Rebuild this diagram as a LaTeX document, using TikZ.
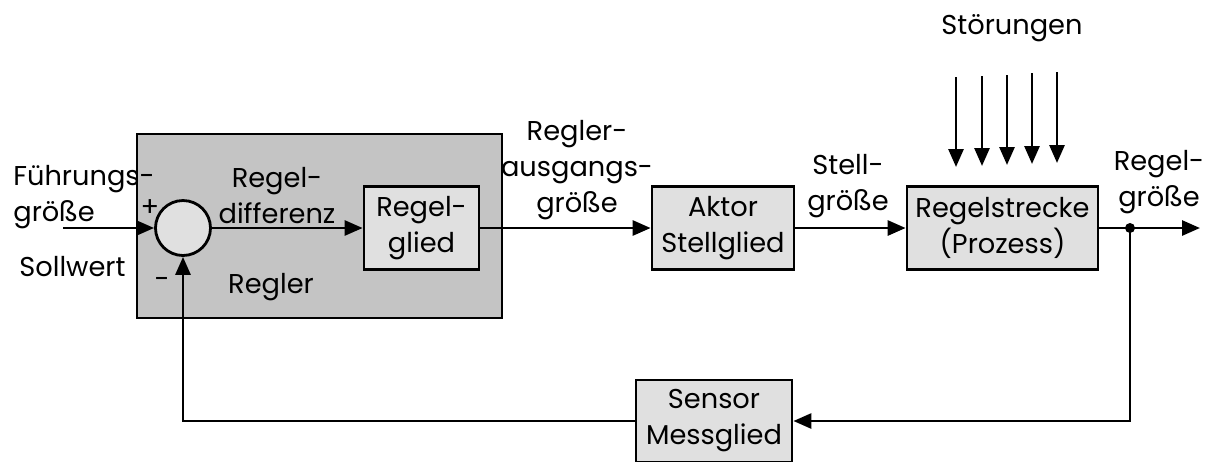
\documentclass[tikz,border=0pt]{standalone}
\usepackage{fontspec}
\setmainfont{Poppins}
\usetikzlibrary{arrows.meta}

\begin{document}
\begin{tikzpicture}[x=0.02cm,y=-0.02cm,line width=1.6pt,
		font=\fontsize{15.5}{20.5}\selectfont,
		block/.style={draw,fill=black!12,minimum height=1.66cm,align=center,inner sep=0pt},
		pfeil/.style={-{Triangle[length=3.6mm,width=3mm]}},
		txt/.style={align=center,inner sep=0pt}]
		\useasboundingbox (0,0) rectangle (1213,461);
		\node[draw,fill=black!23,minimum width=7.3cm,minimum height=3.68cm] (Regler) at (319.5,226) {};
		\node[draw,circle,fill=black!12,minimum size=1.1cm,inner sep=0pt] (Sum) at (183,228) {};
		\node[block,minimum width=2.3cm] (Glied) at (421.5,228) {Regel-\\glied};
		\node[block,minimum width=2.84cm] (Aktor) at (723,228) {Aktor\\Stellglied};
		\node[block,minimum width=3.82cm] (Strecke) at (1002.5,228) {Regelstrecke\\(Prozess)};
		\node[block,minimum width=3.12cm,minimum height=1.64cm] (Sensor) at (714,421) {Sensor\\Messglied};
		\coordinate (In) at (63,228);
		\coordinate (J) at (1130,228);
		\coordinate (Out) at (1200,228);
		\draw[pfeil] (In) -- (Sum.west);
		\draw[pfeil] (Sum.east) -- (Glied.west);
		\draw[pfeil] (Glied.east) -- (Aktor.west);
		\draw[pfeil] (Aktor.east) -- (Strecke.west);
		\draw (Strecke.east) -- (J);
		\draw[pfeil] (J) -- (Out);
		\fill (J) circle (5);
		\draw[pfeil] (J) |- (Sensor.east);
		\draw[pfeil] (Sensor.west) -| (Sum.south);
		\coordinate (S1) at (956,77); \coordinate (E1) at (956,167);
		\coordinate (S2) at (982,76); \coordinate (E2) at (982,166);
		\coordinate (S3) at (1007,75); \coordinate (E3) at (1007,165);
		\coordinate (S4) at (1032,73); \coordinate (E4) at (1032,164);
		\coordinate (S5) at (1057,72); \coordinate (E5) at (1057,163);
		\draw[pfeil] (S1) -- (E1);
		\draw[pfeil] (S2) -- (E2);
		\draw[pfeil] (S3) -- (E3);
		\draw[pfeil] (S4) -- (E4);
		\draw[pfeil] (S5) -- (E5);
		\node[txt,anchor=west,align=left] (Fg) at (12,197) {Führungs-\\größe};
		\node[txt,anchor=west] (Soll) at (18,267) {Sollwert};
		\node[txt] (Plus) at (150,208) {+};
		\node[txt] (Minus) at (162,283) {-};
		\node[txt] (Diff) at (277,196) {Regel-\\differenz};
		\node[txt] (RLabel) at (271,287) {Regler};
		\node[txt] (Ausg) at (577,170) {Regler-\\ausgangs-\\größe};
		\node[txt] (Stell) at (848,186) {Stell-\\größe};
		\node[txt] (RGr) at (1159,182) {Regel-\\größe};
		\node[txt] (Stoer) at (1012,28) {Störungen};
	\end{tikzpicture}
\end{document}
